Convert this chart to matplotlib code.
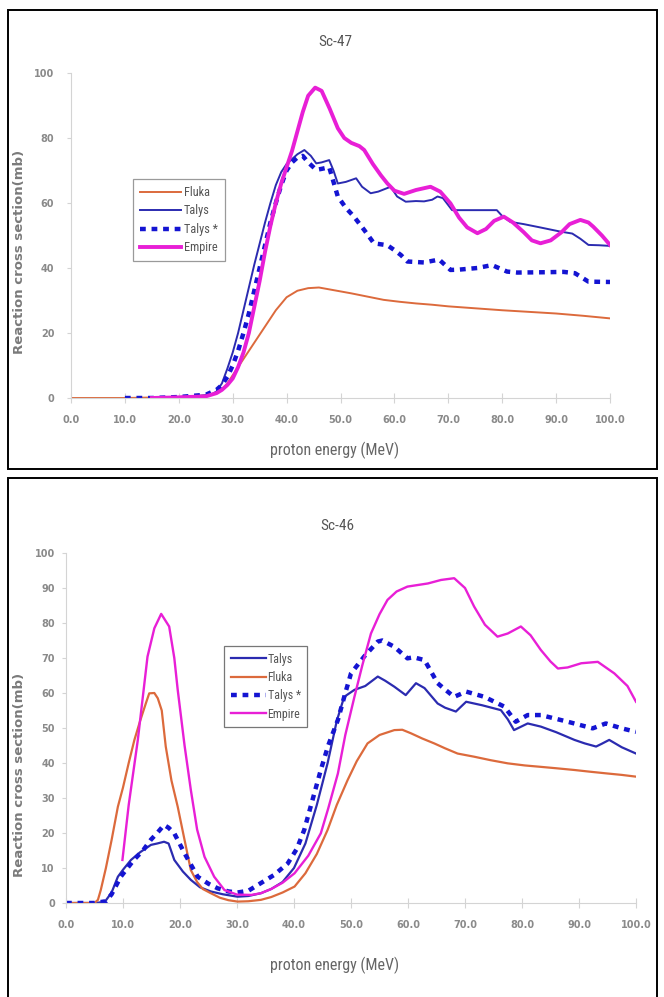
import matplotlib
matplotlib.use("Agg")
import matplotlib.pyplot as plt
from matplotlib.patches import Rectangle
from matplotlib import font_manager

# ---------------- Sc-47 (top panel) ----------------
sc47_fluka_x = [0, 10, 20, 25, 27, 28, 29, 30, 32, 34, 36, 38, 40, 42, 44, 46, 48, 50, 52, 55, 58, 61, 64, 67, 70, 75, 80, 85, 90, 95, 100]
sc47_fluka_y = [0, 0, 0.3, 0.8, 1.5, 2.5, 4.5, 7, 12, 17, 22, 27, 31, 33, 33.8, 34, 33.4, 32.8, 32.2, 31.2, 30.2, 29.6, 29.1, 28.7, 28.2, 27.6, 27, 26.5, 26, 25.3, 24.5]

sc47_talys_x = [15, 20, 24, 26, 27, 28, 29, 30, 31, 32, 33, 34, 35, 36, 37, 38, 39, 40, 41, 42, 43.3, 44.5, 45.5, 46.5, 47.9, 48.7, 49.5, 51, 52.9, 54, 55.6, 57, 59.3, 60.5, 62.1, 64, 65.5, 67, 68, 69, 70.7, 74, 77, 79, 80, 81.5, 84, 87, 90.8, 93, 94.5, 96, 98, 100]
sc47_talys_y = [0, 0.3, 0.7, 1, 2, 4.5, 9, 14, 20, 27, 34, 41, 47.5, 54, 60, 65.5, 69.5, 72, 73.5, 75, 76.3, 74.5, 72.2, 72.5, 73.2, 70, 66, 66.5, 67.6, 65, 63, 63.5, 65, 62, 60.4, 60.6, 60.5, 61, 62, 61.5, 57.8, 57.8, 57.8, 57.8, 56, 54.2, 53.5, 52.5, 51.2, 50.6, 49, 47.1, 47, 46.8]

sc47_talys2_x = [10, 15, 20, 25, 27, 28, 29, 30, 31, 32, 33, 34, 35, 36, 37, 38, 39, 40, 41, 42, 43, 44, 45.5, 46.5, 47.9, 49.5, 51, 52.5, 54.4, 56.2, 58.7, 60, 61.2, 62.4, 65.5, 68.3, 70.4, 72, 75.4, 78.1, 80.9, 82.8, 88, 91.4, 93.5, 96, 100]
sc47_talys2_y = [0, 0, 0.3, 1, 2.5, 4, 6.5, 10, 14.5, 20, 26, 33, 40, 47, 54, 60, 65.5, 70, 72.5, 74, 74.5, 72.5, 70.2, 70.5, 71, 62, 58.5, 55.8, 51.7, 47.6, 47, 45.5, 44, 42, 41.7, 42.6, 39.4, 39.5, 40, 40.9, 38.9, 38.6, 38.7, 38.8, 38.4, 35.8, 35.7]

sc47_empire_x = [15, 20, 25, 27, 28, 29, 30, 31, 32, 33, 34, 35, 36, 37, 38, 39, 40, 41, 42, 43, 44, 45.3, 46.5, 48, 49.5, 50.7, 52, 53.5, 54.4, 56, 57.5, 58.7, 60, 61.8, 64, 66.7, 68.5, 70.4, 72, 73.5, 75.4, 77, 78.5, 80.3, 82, 84, 85.5, 87.1, 89, 91, 92.5, 94.5, 96, 96.9, 98.5, 100]
sc47_empire_y = [0, 0.2, 0.5, 1.5, 2.5, 4, 6, 9.5, 14, 20, 28, 36, 45, 53, 60, 66, 71, 76, 82, 88, 93, 95.5, 94.5, 89, 83, 80, 78.5, 77.5, 76.3, 72, 68.5, 66, 63.8, 62.8, 64, 65, 63.5, 59.9, 55.5, 52.5, 50.7, 52, 54.5, 55.8, 54, 51, 48.5, 47.6, 48.5, 51, 53.5, 54.8, 54, 52.7, 50, 47.1]

# ---------------- Sc-46 (bottom panel) ----------------
sc46_talys_x = [0, 5, 6.8, 8, 9.1, 10, 11.4, 13, 14.9, 16, 17.2, 18, 19, 20.5, 21.9, 23.5, 25.4, 27.5, 30.1, 32, 34.2, 36, 38, 40, 42, 44, 45.9, 47.5, 48.8, 50.6, 52.5, 54.7, 56, 57.6, 59.6, 61.4, 62.9, 65.2, 66.5, 68.4, 70.2, 73, 76.3, 77.5, 78.6, 81, 83.3, 86, 89.2, 91, 93, 94, 95.3, 97.5, 100]
sc46_talys_y = [0, 0, 0.3, 3, 7.5, 9.5, 12.3, 14.5, 16.6, 17, 17.5, 17, 12.3, 9, 6.6, 4.5, 3.3, 2.5, 1.8, 2, 2.8, 4, 6, 10, 17, 28, 40, 52, 58.9, 60.9, 62, 64.7, 63.5, 61.8, 59.4, 62.8, 61.4, 57, 55.8, 54.7, 57.5, 56.5, 55.1, 52.5, 49.4, 51.3, 50.4, 48.8, 46.6, 45.6, 44.7, 45.5, 46.6, 44.5, 42.7]

sc46_fluka_x = [0, 5, 5.6, 6.1, 7, 8, 9.1, 10, 11, 12, 13, 14, 14.6, 15.5, 16.1, 16.8, 17.5, 18.5, 19.6, 20.8, 21.9, 23, 24, 25.4, 27, 28.5, 30.1, 32, 34.2, 36, 38, 40.1, 42, 44, 45.9, 47.5, 49.4, 51, 52.9, 55, 57.6, 59, 60.5, 62.5, 64.6, 66.5, 68.7, 71.6, 74.5, 77.5, 80.5, 83.3, 86, 89.2, 92, 95, 97.5, 100]
sc46_fluka_y = [0, 0, 0.9, 3.7, 10, 18, 27.5, 33, 40, 46.6, 52, 57, 59.9, 60, 58.5, 55, 44.7, 35, 27.5, 18, 9.4, 6, 4, 2.8, 1.5, 0.8, 0.4, 0.5, 0.9, 1.7, 3, 4.7, 8.5, 14, 20.9, 28, 35.1, 40.5, 45.6, 48, 49.4, 49.5, 48.5, 47, 45.6, 44.2, 42.7, 41.8, 40.8, 39.9, 39.3, 38.9, 38.5, 38, 37.5, 37, 36.6, 36.1]

sc46_talys2_x = [0, 5, 7, 8, 9.6, 11.9, 13.5, 14.9, 16, 17.2, 18, 19, 20.8, 23.1, 25, 26.6, 28.5, 30.1, 32, 34.2, 36.5, 38.9, 40.5, 41.8, 43, 44.7, 46, 47.7, 49, 50, 52.3, 54.7, 55.5, 57.6, 59.9, 61, 62.9, 65.2, 66.5, 68.1, 70.2, 73.4, 76.9, 78.9, 81, 83.3, 88, 92.4, 94.7, 97.5, 100]
sc46_talys2_y = [0, 0, 0.5, 2.5, 7.5, 12.3, 15, 18.1, 20, 22.3, 21.5, 19.9, 14.2, 7.5, 5.5, 4.2, 3.3, 3, 3.5, 5.7, 8, 11.3, 15.5, 20.9, 28, 38, 45, 52.3, 60, 65.6, 70.4, 74.7, 75, 73.2, 69.9, 70.2, 69.4, 62.8, 61, 58.9, 60.4, 58.9, 56.1, 51.8, 53.7, 53.7, 51.8, 49.9, 51.3, 49.9, 48.9]

sc46_empire_x = [9.9, 11, 12.6, 14.3, 15.5, 16.7, 18.1, 19, 19.6, 20.8, 21.9, 23, 24.3, 26, 27.8, 30, 32.5, 34.2, 36, 38, 40.1, 42.5, 44.7, 46, 47.7, 49, 50.6, 52, 53.5, 55, 56.4, 58, 59.9, 61.5, 63.5, 65.8, 68.1, 70, 71.6, 73.5, 75.7, 77.5, 79.8, 81.5, 83.3, 85, 86.3, 88, 90.4, 93.3, 96.2, 98.5, 100]
sc46_empire_y = [12.3, 28, 46.6, 70.4, 78.5, 82.6, 79, 70, 60.9, 45, 32.3, 21, 13.2, 7.5, 3.7, 2.4, 2.3, 2.8, 4, 5.8, 8.5, 13.5, 19.9, 27, 37, 48, 58.9, 68, 77, 82.5, 86.6, 89, 90.4, 90.8, 91.3, 92.3, 92.8, 90, 84.7, 79.5, 76.1, 77, 79, 76.5, 72.3, 69, 67, 67.3, 68.5, 68.9, 65.6, 62, 57.5]

x_ticks = [0, 10, 20, 30, 40, 50, 60, 70, 80, 90, 100]

FLUKA = "#dc6a3c"
TALYS = "#2b2bb0"
TALYS2 = "#1414d2"
EMPIRE = "#e81fd6"
GREY = "#8a8a8a"

# pick a narrow face if one is installed
installed = {f.name for f in font_manager.fontManager.ttflist}
NARROW = [n for n in ["Liberation Sans Narrow", "Roboto Condensed", "Open Sans Condensed", "DejaVu Sans"] if n in installed] or ["DejaVu Sans"]
narrow_prop = dict(family=NARROW, stretch="condensed")

W, H = 664, 997
fig = plt.figure(figsize=(W / 100, H / 100), dpi=100)


def px_box(x0, y0, x1, y1):
    # pixel box (top-left origin) -> figure fraction [left, bottom, width, height]
    return [x0 / W, 1 - y1 / H, (x1 - x0) / W, (y1 - y0) / H]


def style_axes(ax, yticks, ypad):
    ax.set_xlim(0, 100)
    ax.set_ylim(0, 100)
    ax.set_xticks(x_ticks)
    ax.set_xticklabels(["%.1f" % v for v in x_ticks])
    ax.set_yticks(yticks)
    for s in ["top", "right"]:
        ax.spines[s].set_visible(False)
    for s in ["left", "bottom"]:
        ax.spines[s].set_color("#d4d4d4")
        ax.spines[s].set_linewidth(0.8)
    ax.tick_params(axis="x", direction="inout", length=7, color="#d4d4d4",
                   labelcolor=GREY, labelsize=7, pad=9)
    ax.tick_params(axis="y", direction="out", length=3, color="#d4d4d4",
                   labelcolor=GREY, labelsize=7, pad=ypad)
    for lab in ax.get_xticklabels() + ax.get_yticklabels():
        lab.set_fontweight("bold")
    ax.patch.set_alpha(0)


# panel frames
for (x0, y0, x1, y1) in [(8, 10, 657, 469), (8, 478, 657, 1000)]:
    fig.patches.append(Rectangle((x0 / W, 1 - y1 / H), (x1 - x0) / W, (y1 - y0) / H,
                                 transform=fig.transFigure, fill=False,
                                 edgecolor="black", linewidth=1.4))

# ---- top panel ----
ax1 = fig.add_axes(px_box(71, 73, 610, 398))
ax1.plot(sc47_fluka_x, sc47_fluka_y, color=FLUKA, lw=1.4, label="Fluka")
ax1.plot(sc47_talys_x, sc47_talys_y, color=TALYS, lw=1.4, label="Talys")
ax1.plot(sc47_talys2_x, sc47_talys2_y, color=TALYS2, lw=3.2, ls=(0, (1.3, 1.3)), label="Talys *")
ax1.plot(sc47_empire_x, sc47_empire_y, color=EMPIRE, lw=2.8, label="Empire")
style_axes(ax1, [0, 20, 40, 60, 80, 100], 9)
leg1 = ax1.legend(loc="upper left", bbox_to_anchor=(127 / W, 1 - 173 / H),
                  bbox_transform=fig.transFigure, fancybox=False, framealpha=1,
                  edgecolor="#9a9a9a", handlelength=3.4, handletextpad=0.2,
                  labelspacing=0.45, borderpad=0.55,
                  prop=font_manager.FontProperties(size=8.8, **narrow_prop))
leg1.get_frame().set_linewidth(0.9)
for t in leg1.get_texts():
    t.set_color("#555555")

fig.text(335 / W, 1 - 42 / H, "Sc-47", ha="center", va="center", color="#555555",
         fontsize=11, **narrow_prop)
fig.text(335 / W, 1 - 450 / H, "proton energy (MeV)", ha="center", va="center",
         color="#666666", fontsize=11.5, **narrow_prop)
fig.text(20 / W, 1 - 252 / H, "Reaction cross section(mb)", ha="center", va="center",
         rotation=90, color="#7a7a7a", fontsize=9.5, fontweight="bold")

# ---- bottom panel ----
ax2 = fig.add_axes(px_box(66, 553, 636, 903))
ax2.plot(sc46_talys_x, sc46_talys_y, color=TALYS, lw=1.6, label="Talys")
ax2.plot(sc46_fluka_x, sc46_fluka_y, color=FLUKA, lw=1.6, label="Fluka")
ax2.plot(sc46_talys2_x, sc46_talys2_y, color=TALYS2, lw=3.2, ls=(0, (1.3, 1.3)), label="Talys *")
ax2.plot(sc46_empire_x, sc46_empire_y, color=EMPIRE, lw=1.7, label="Empire")
style_axes(ax2, list(range(0, 101, 10)), 5)
leg2 = ax2.legend(loc="upper left", bbox_to_anchor=(218 / W, 1 - 640 / H),
                  bbox_transform=fig.transFigure, fancybox=False, framealpha=1,
                  edgecolor="#777777", handlelength=3.0, handletextpad=0.1,
                  labelspacing=0.45, borderpad=0.55,
                  prop=font_manager.FontProperties(size=8.6, **narrow_prop))
leg2.get_frame().set_linewidth(0.9)
for t in leg2.get_texts():
    t.set_color("#555555")

fig.text(337 / W, 1 - 526 / H, "Sc-46", ha="center", va="center", color="#555555",
         fontsize=11, **narrow_prop)
fig.text(335 / W, 1 - 965 / H, "proton energy (MeV)", ha="center", va="center",
         color="#666666", fontsize=11.5, **narrow_prop)
fig.text(20 / W, 1 - 775 / H, "Reaction cross section(mb)", ha="center", va="center",
         rotation=90, color="#7a7a7a", fontsize=9.5, fontweight="bold")

fig.savefig("out.png", dpi=100)
